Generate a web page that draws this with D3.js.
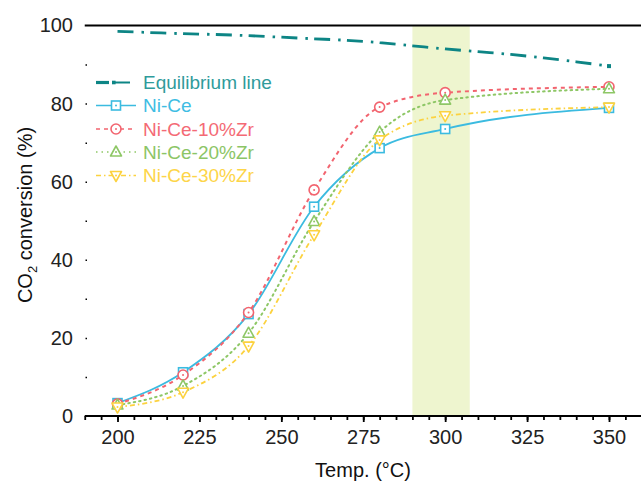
<!DOCTYPE html>
<html>
<head>
<meta charset="utf-8">
<script src="https://cdn.jsdelivr.net/npm/d3@7"></script>
<style>
  body { margin: 0; background: #fff; }
  svg { display: block; }
  text { font-family: "Liberation Sans", Arial, sans-serif; }
</style>
</head>
<body>
<svg id="chart" width="641" height="483"></svg>
<script>
// Measured CO2 conversion (%) versus reaction temperature (°C)
const temps = [200, 220, 240, 260, 280, 300, 350];
const niCe = [3.3, 11.2, 26.1, 53.6, 68.6, 73.5, 78.9];
const niCe10Zr = [3.1, 10.5, 26.5, 57.9, 79.1, 82.8, 84.3];
const niCe20Zr = [2.8, 7.7, 21.2, 49.8, 72.7, 80.9, 83.8];
const niCe30Zr = [2.3, 6.1, 17.9, 46.4, 70.7, 76.9, 79.1];

// Thermodynamic equilibrium conversion
const eqTemps = [200, 210, 220, 230, 240, 250, 260, 270, 280, 290, 300, 310, 320, 330, 340, 350];
const eqValues = [98.5, 98.2, 97.9, 97.7, 97.4, 97.0, 96.6, 96.2, 95.6, 94.8, 94.0, 93.3, 92.6, 91.7, 90.7, 89.6];

const xTicks = [200, 225, 250, 275, 300, 325, 350];
const yTicks = [0, 20, 40, 60, 80, 100];
const bandRange = [290, 307.5];

const svg = d3.select("#chart");
const x = d3.scaleLinear().domain([200, 350]).range([117.5, 609]);
const y = d3.scaleLinear().domain([0, 100]).range([416, 25.5]);
const xLeft = x(190), xRight = 641;

// highlighted temperature window
svg.append("rect")
  .attr("x", x(bandRange[0])).attr("y", y(100))
  .attr("width", x(bandRange[1]) - x(bandRange[0]))
  .attr("height", y(0) - y(100))
  .attr("fill", "#eef5cf");

// top frame line at 100 %
svg.append("line")
  .attr("x1", xLeft).attr("x2", xRight)
  .attr("y1", y(100)).attr("y2", y(100))
  .attr("stroke", "#000").attr("stroke-width", 2.2);

// x axis: minor ticks every 5 °C, labelled majors every 25 °C
const gxMinor = svg.append("g").attr("transform", `translate(0,${y(0)})`)
  .call(d3.axisBottom(x).tickValues(d3.range(190, 360, 5)).tickSize(4).tickFormat(""));
gxMinor.select(".domain").remove();
gxMinor.selectAll(".tick line").attr("stroke", "#000").attr("stroke-width", 1.8);

const gx = svg.append("g").attr("transform", `translate(0,${y(0)})`)
  .call(d3.axisBottom(x).tickValues(xTicks).tickSize(6).tickPadding(8));
gx.select(".domain").remove();
gx.selectAll(".tick line").attr("stroke", "#000").attr("stroke-width", 1.8);
gx.selectAll(".tick text").attr("font-size", 20).attr("fill", "#222")
  .attr("font-family", "'Liberation Sans', Arial, sans-serif");

svg.append("line")
  .attr("x1", xLeft).attr("x2", xRight)
  .attr("y1", y(0)).attr("y2", y(0))
  .attr("stroke", "#000").attr("stroke-width", 2.2);

// y axis: dotted minor marks and labels, no spine
const gyMinor = svg.append("g").attr("transform", `translate(${87},0)`)
  .call(d3.axisLeft(y).tickValues(d3.range(10, 100, 10)).tickSize(1.5).tickFormat(""));
gyMinor.select(".domain").remove();
gyMinor.selectAll(".tick line").attr("stroke", "#000").attr("stroke-width", 1.5);

const gy = svg.append("g").attr("transform", `translate(${86},0)`)
  .call(d3.axisLeft(y).tickValues(yTicks).tickSize(0).tickPadding(13));
gy.select(".domain").remove();
gy.selectAll(".tick text").attr("font-size", 20).attr("fill", "#222")
  .attr("font-family", "'Liberation Sans', Arial, sans-serif");

// axis titles
svg.append("text")
  .attr("x", 363).attr("y", 477)
  .attr("text-anchor", "middle").attr("font-size", 20).attr("fill", "#111")
  .text("Temp. (°C)");

const yTitle = svg.append("text")
  .attr("transform", `translate(32,${215}) rotate(-90)`)
  .attr("text-anchor", "middle").attr("font-size", 20).attr("fill", "#111");
yTitle.append("tspan").text("CO");
yTitle.append("tspan").attr("font-size", 13).attr("dy", 5).text("2");
yTitle.append("tspan").attr("dy", -5).text(" conversion (%)");

// series definitions
const series = [
  { name: "Ni-Ce", values: niCe, color: "#3bbbe0", text: "#3ebde3", dash: null, width: 1.8, marker: "square" },
  { name: "Ni-Ce-10%Zr", values: niCe10Zr, color: "#f2646f", text: "#f46a75", dash: "4,4", width: 2, marker: "circle" },
  { name: "Ni-Ce-20%Zr", values: niCe20Zr, color: "#8ec766", text: "#8cc566", dash: "1.5,4", width: 2, marker: "up" },
  { name: "Ni-Ce-30%Zr", values: niCe30Zr, color: "#fcd23f", text: "#fdd548", dash: "5,3,1.5,3", width: 1.8, marker: "down" }
];

const line = d3.line().x(d => x(d[0])).y(d => y(d[1])).curve(d3.curveMonotoneX);

function drawMarker(g, type, cx, cy, color) {
  if (type === "square") {
    g.append("rect").attr("x", cx - 4.5).attr("y", cy - 4.5).attr("width", 9).attr("height", 9)
      .attr("fill", "#fff").attr("stroke", color).attr("stroke-width", 1.6);
  } else if (type === "circle") {
    g.append("circle").attr("cx", cx).attr("cy", cy).attr("r", 5)
      .attr("fill", "#fff").attr("stroke", color).attr("stroke-width", 1.6);
  } else {
    const s = type === "up" ? 1 : -1;
    const pts = [[cx, cy - 6 * s], [cx - 5.5, cy + 4 * s], [cx + 5.5, cy + 4 * s]];
    g.append("path").attr("d", "M" + pts.join("L") + "Z")
      .attr("fill", "#fff").attr("stroke", color).attr("stroke-width", 1.6).attr("stroke-linejoin", "round");
  }
  g.append("circle").attr("cx", cx).attr("cy", cy).attr("r", 1).attr("fill", color);
}

// equilibrium curve
svg.append("path")
  .datum(eqTemps.map((t, i) => [t, eqValues[i]]))
  .attr("d", line)
  .attr("fill", "none").attr("stroke", "#0d8585").attr("stroke-width", 2.8)
  .attr("stroke-dasharray", "16,8,2.5,6.3");
svg.append("rect")
  .attr("x", x(350) - 2).attr("y", y(eqValues[eqValues.length - 1]) - 2)
  .attr("width", 4).attr("height", 4).attr("fill", "#0d8585");

// conversion curves and markers
series.forEach(s => {
  const pts = temps.map((t, i) => [t, s.values[i]]);
  svg.append("path").datum(pts).attr("d", line)
    .attr("fill", "none").attr("stroke", s.color).attr("stroke-width", s.width)
    .attr("stroke-dasharray", s.dash).attr("stroke-linecap", s.dash === "1.5,4" ? "round" : "butt");
  const g = svg.append("g");
  pts.forEach(p => drawMarker(g, s.marker, x(p[0]), y(p[1]), s.color));
});

// legend
const legendX = 96, legendTextX = 143;
const legendRows = [82.5, 105.5, 129, 152, 175.5];
const lg = svg.append("g");
lg.append("line").attr("x1", legendX).attr("x2", legendX + 13)
  .attr("y1", legendRows[0]).attr("y2", legendRows[0])
  .attr("stroke", "#0d8585").attr("stroke-width", 3.2);
lg.append("line").attr("x1", legendX + 18).attr("x2", legendX + 34)
  .attr("y1", legendRows[0]).attr("y2", legendRows[0])
  .attr("stroke", "#0d8585").attr("stroke-width", 2);
lg.append("rect").attr("x", legendX + 16).attr("y", legendRows[0] - 1.8)
  .attr("width", 3.6).attr("height", 3.6).attr("fill", "#0d8585");
lg.append("text").attr("x", legendTextX).attr("y", legendRows[0]).attr("dy", "0.35em")
  .attr("font-size", 19).attr("fill", "#2f9b9b").text("Equilibrium line");

series.forEach((s, i) => {
  const yy = legendRows[i + 1];
  lg.append("line").attr("x1", legendX).attr("x2", legendX + 40)
    .attr("y1", yy).attr("y2", yy)
    .attr("stroke", s.color).attr("stroke-width", s.width - 0.3)
    .attr("stroke-dasharray", s.dash);
  drawMarker(lg, s.marker, legendX + 20, yy, s.color);
  lg.append("text").attr("x", legendTextX).attr("y", yy).attr("dy", "0.35em")
    .attr("font-size", 19).attr("fill", s.text).text(s.name);
});
</script>
</body>
</html>
